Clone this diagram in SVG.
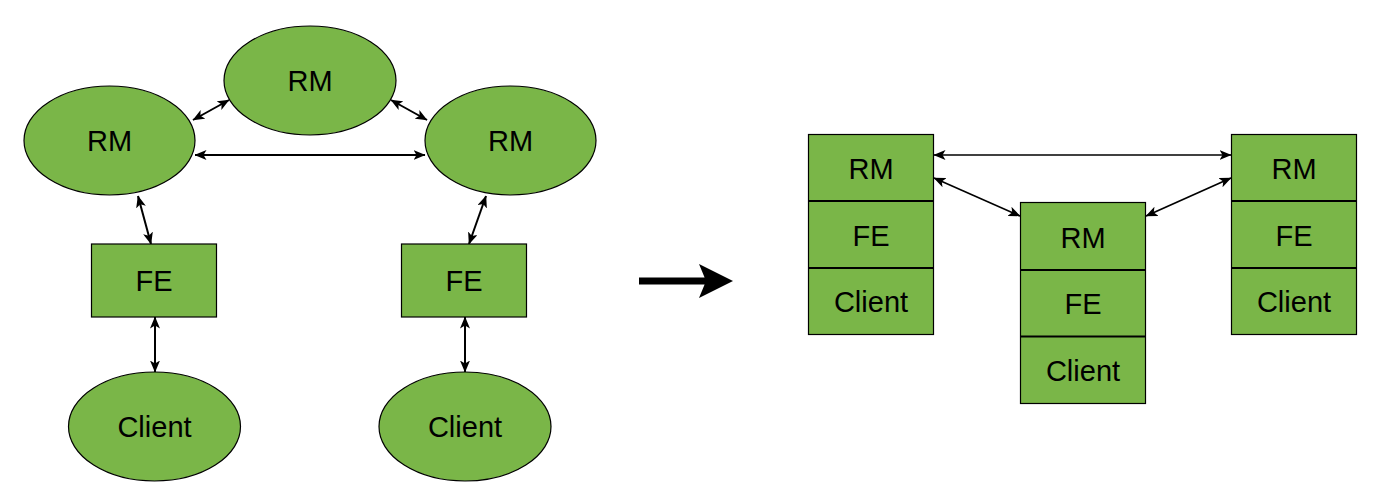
<svg xmlns="http://www.w3.org/2000/svg" width="1386" height="499" viewBox="0 0 1386 499">
<style>
.n{fill:#7AB648;stroke:#000;stroke-width:1.2}
.t{font-family:"Liberation Sans",Arial,sans-serif;font-size:29px;fill:#000;text-anchor:middle}
.c{fill:none;stroke:#000;stroke-width:2;marker-start:url(#ah);marker-end:url(#ah)}
.c2{fill:none;stroke:#000;stroke-width:1.7;marker-start:url(#ah);marker-end:url(#ah)}
.d{stroke:#000;stroke-width:2}
</style>
<defs>
<marker id="ah" viewBox="0 0 12 10" markerWidth="12" markerHeight="10" refX="11.5" refY="5" orient="auto-start-reverse" markerUnits="userSpaceOnUse">
<path d="M0,0 L12,5 L0,10 L3,5 Z" fill="#000"/>
</marker>
</defs>
<rect width="1386" height="499" fill="#fff"/>
<g id="connectors">
<line class="c" x1="193" y1="120" x2="229" y2="100"/>
<line class="c" x1="391" y1="100" x2="427" y2="120"/>
<line class="c" x1="195" y1="155" x2="425" y2="155"/>
<line class="c" x1="138" y1="196" x2="151" y2="244"/>
<line class="c" x1="486" y1="196" x2="469" y2="244"/>
<line class="c" x1="155" y1="317" x2="155" y2="372"/>
<line class="c" x1="465" y1="317" x2="465" y2="372"/>
<line class="c2" x1="934" y1="155" x2="1231" y2="155"/>
<line class="c2" x1="934" y1="178" x2="1020" y2="216"/>
<line class="c2" x1="1146" y1="216" x2="1231" y2="178"/>
</g>
<g id="rm-top"><ellipse class="n" cx="310" cy="80.5" rx="86" ry="54.5"/><text class="t" x="310" y="91">RM</text></g>
<g id="rm-left"><ellipse class="n" cx="109.5" cy="140.5" rx="85.5" ry="54.5"/><text class="t" x="109.5" y="151">RM</text></g>
<g id="rm-right"><ellipse class="n" cx="510.5" cy="140.5" rx="85.5" ry="54.5"/><text class="t" x="510.5" y="151">RM</text></g>
<g id="fe-left"><rect class="n" x="91.5" y="244" width="125" height="73"/><text class="t" x="154" y="291">FE</text></g>
<g id="fe-right"><rect class="n" x="401.5" y="244" width="125" height="73"/><text class="t" x="464" y="291">FE</text></g>
<g id="client-left"><ellipse class="n" cx="154.5" cy="426.5" rx="86" ry="54.5"/><text class="t" x="154.5" y="437">Client</text></g>
<g id="client-right"><ellipse class="n" cx="465" cy="426.5" rx="86" ry="54.5"/><text class="t" x="465" y="437">Client</text></g>
<g id="transform-arrow">
<path d="M639,277.5 L704.6,277.5 L699,264 L733,281 L699,298 L704.6,284.5 L639,284.5 Z" fill="#000"/>
</g>
<g id="stack-left">
<rect class="n" x="808.5" y="134.5" width="125" height="200"/>
<line class="d" x1="808.5" y1="201" x2="933.5" y2="201"/>
<line class="d" x1="808.5" y1="268" x2="933.5" y2="268"/>
<text class="t" x="871" y="179">RM</text>
<text class="t" x="871" y="246">FE</text>
<text class="t" x="871" y="312">Client</text>
</g>
<g id="stack-middle">
<rect class="n" x="1020.5" y="202.5" width="125" height="201"/>
<line class="d" x1="1020.5" y1="270" x2="1145.5" y2="270"/>
<line class="d" x1="1020.5" y1="336.5" x2="1145.5" y2="336.5"/>
<text class="t" x="1083" y="248">RM</text>
<text class="t" x="1083" y="314">FE</text>
<text class="t" x="1083" y="381">Client</text>
</g>
<g id="stack-right">
<rect class="n" x="1231.5" y="134.5" width="125" height="200"/>
<line class="d" x1="1231.5" y1="201" x2="1356.5" y2="201"/>
<line class="d" x1="1231.5" y1="268" x2="1356.5" y2="268"/>
<text class="t" x="1294" y="179">RM</text>
<text class="t" x="1294" y="246">FE</text>
<text class="t" x="1294" y="312">Client</text>
</g>
</svg>
